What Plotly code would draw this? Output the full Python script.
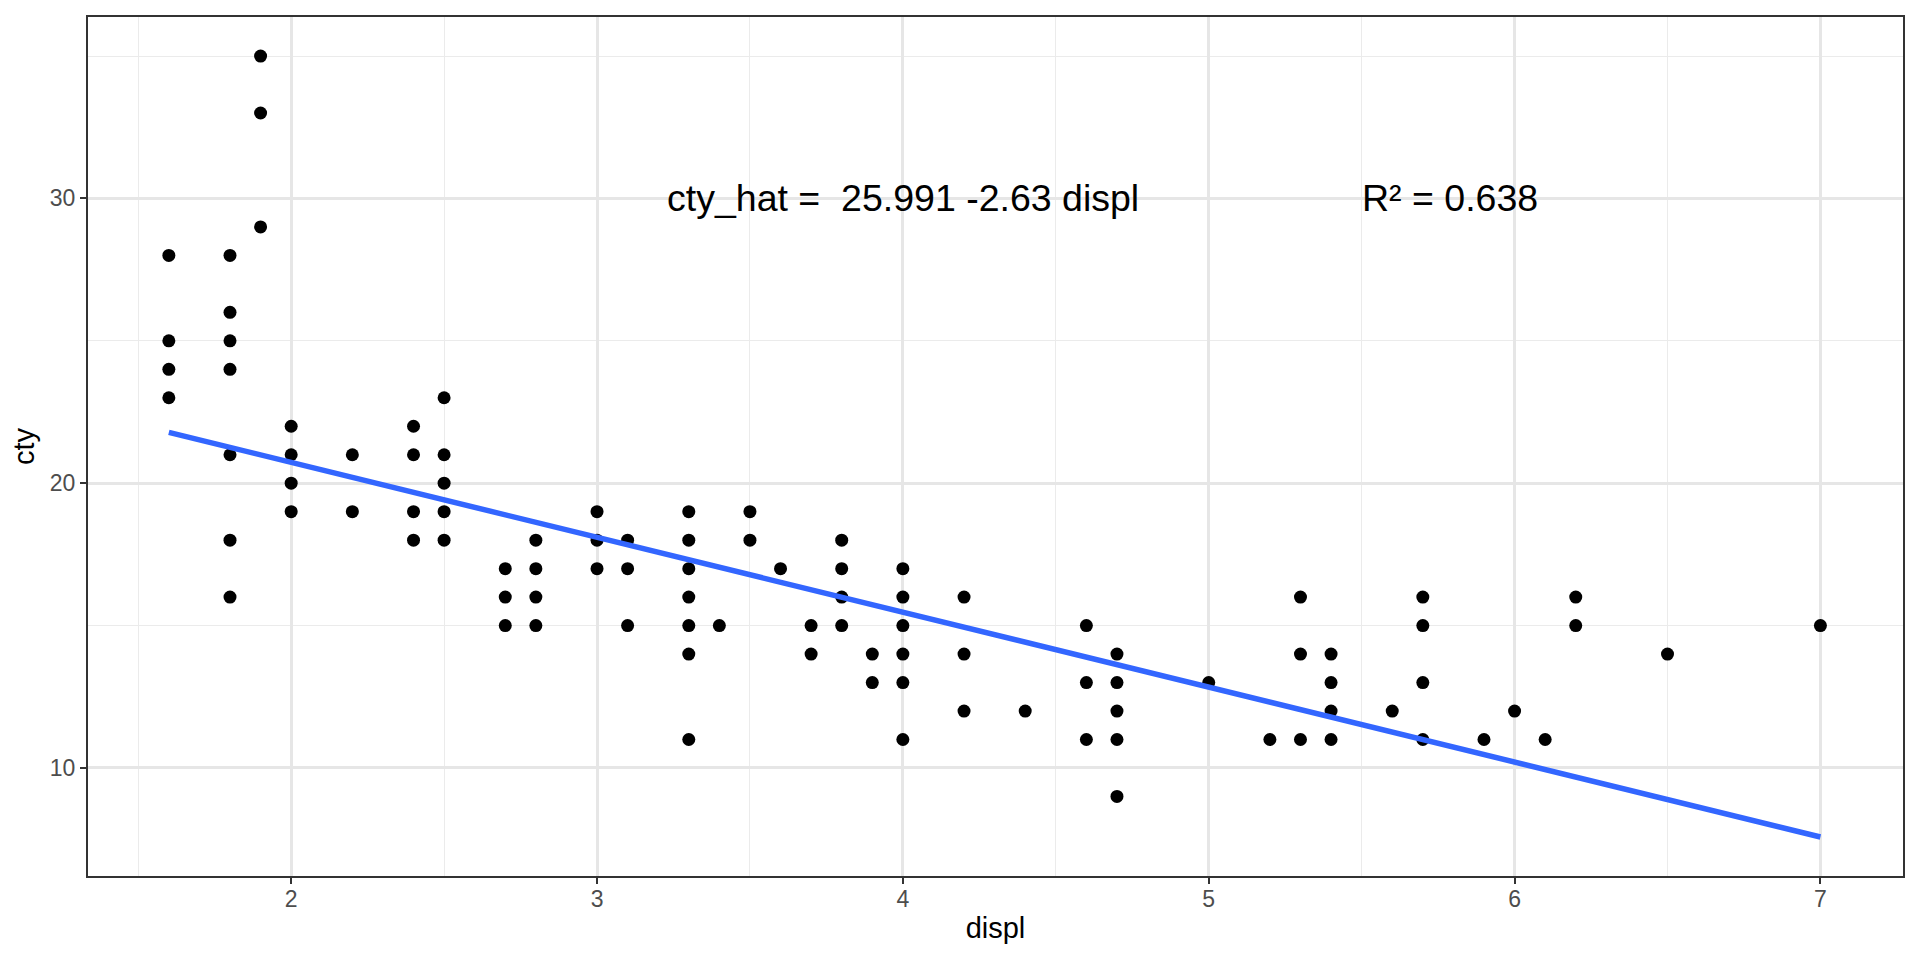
import plotly.graph_objects as go

# Unique (displ, cty) points (mpg data)
displ = [
    1.6, 1.6, 1.6, 1.6,
    1.8, 1.8, 1.8, 1.8, 1.8, 1.8, 1.8,
    1.9, 1.9, 1.9,
    2.0, 2.0, 2.0, 2.0,
    2.2, 2.2,
    2.4, 2.4, 2.4, 2.4,
    2.5, 2.5, 2.5, 2.5, 2.5,
    2.7, 2.7, 2.7,
    2.8, 2.8, 2.8, 2.8,
    3.0, 3.0, 3.0,
    3.1, 3.1, 3.1,
    3.3, 3.3, 3.3, 3.3, 3.3, 3.3, 3.3,
    3.4,
    3.5, 3.5,
    3.6,
    3.7, 3.7,
    3.8, 3.8, 3.8, 3.8,
    3.9, 3.9,
    4.0, 4.0, 4.0, 4.0, 4.0, 4.0,
    4.2, 4.2, 4.2,
    4.4,
    4.6, 4.6, 4.6,
    4.7, 4.7, 4.7, 4.7, 4.7,
    5.0,
    5.2,
    5.3, 5.3, 5.3,
    5.4, 5.4, 5.4, 5.4,
    5.6,
    5.7, 5.7, 5.7, 5.7,
    5.9,
    6.0,
    6.1,
    6.2, 6.2,
    6.5,
    7.0,
]
cty = [
    28, 25, 24, 23,
    28, 26, 25, 24, 21, 18, 16,
    35, 33, 29,
    22, 21, 20, 19,
    21, 19,
    22, 21, 19, 18,
    23, 21, 20, 19, 18,
    17, 16, 15,
    18, 17, 16, 15,
    19, 18, 17,
    18, 17, 15,
    19, 18, 17, 16, 15, 14, 11,
    15,
    19, 18,
    17,
    15, 14,
    18, 17, 16, 15,
    14, 13,
    17, 16, 15, 14, 13, 11,
    16, 14, 12,
    12,
    15, 13, 11,
    14, 13, 12, 11, 9,
    13,
    11,
    16, 14, 11,
    14, 13, 12, 11,
    12,
    16, 15, 13, 11,
    11,
    12,
    11,
    16, 15,
    14,
    15,
]

# Fitted line (lm) endpoints over the data range
fit_x = [1.6, 7.0]
fit_y = [21.783, 7.578]

eq_label = "cty_hat = \u00a025.991 -2.63 displ"
r2_label = "R\u00b2 = 0.638"
label_x = [4.0, 5.79]
label_y = [30, 30]

x_ticks = [2, 3, 4, 5, 6, 7]
y_ticks = [10, 20, 30]

FONT = "Liberation Sans, Arial, sans-serif"

fig = go.Figure()
fig.add_trace(go.Scatter(
    x=displ, y=cty, mode="markers",
    marker=dict(color="black", size=13, line=dict(width=0)),
    showlegend=False, hoverinfo="x+y",
))
fig.add_trace(go.Scatter(
    x=fit_x, y=fit_y, mode="lines",
    line=dict(color="#3366FF", width=5.5),
    showlegend=False,
))

for txt, lx, ly in zip([eq_label, r2_label], label_x, label_y):
    fig.add_annotation(
        x=lx, y=ly, text=txt, showarrow=False,
        xanchor="center", yanchor="middle",
        font=dict(family=FONT, size=37.5, color="black"),
    )

axis_common = dict(
    showline=True, linecolor="#333333", linewidth=2, mirror=True,
    ticks="outside", ticklen=6, tickwidth=2, tickcolor="#333333",
    tickfont=dict(family=FONT, size=23, color="#4D4D4D"),
    showgrid=True, gridcolor="#E6E6E6", gridwidth=2.5,
    zeroline=False,
)

fig.update_xaxes(
    range=[1.3357, 7.27], tickvals=x_ticks, ticklabelstandoff=-5,
    minor=dict(dtick=0.5, tick0=1.5, showgrid=True, gridcolor="#EBEBEB", gridwidth=1.2, ticks=""),
    title=dict(text="displ", font=dict(family=FONT, size=29, color="black"), standoff=7),
    **axis_common,
)
fig.update_yaxes(
    range=[6.207, 36.371], tickvals=y_ticks, ticklabelstandoff=0,
    minor=dict(dtick=5, tick0=5, showgrid=True, gridcolor="#EBEBEB", gridwidth=1.2, ticks=""),
    title=dict(text="cty", font=dict(family=FONT, size=29, color="black"), standoff=8),
    **axis_common,
)

# page body has an 8px margin: shift the figure so the panel lands where it should
fig.update_layout(
    width=1904, height=944,
    margin=dict(l=80, r=7, t=7, b=76, pad=0),
    plot_bgcolor="white", paper_bgcolor="white",
    font=dict(family=FONT),
)

fig.write_html("out.html")
